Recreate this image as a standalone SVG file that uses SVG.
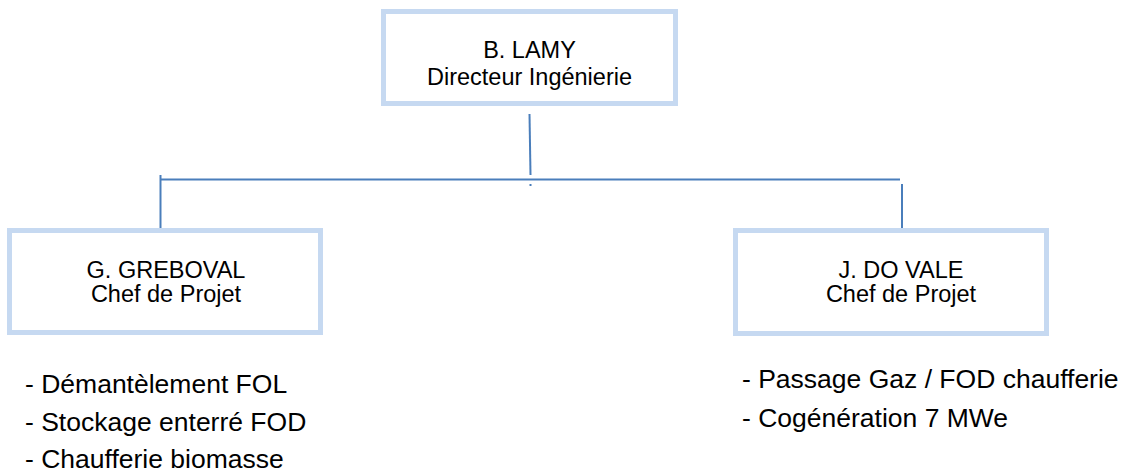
<svg xmlns="http://www.w3.org/2000/svg" width="1124" height="473" viewBox="0 0 1124 473">
<style>
.box{fill:#ffffff;stroke:#C6D9F1;stroke-width:5}
.t{font-family:"Liberation Sans",Arial,sans-serif;font-size:23.5px;fill:#000;text-anchor:middle}
.l{font-family:"Liberation Sans",Arial,sans-serif;font-size:26.5px;fill:#000}
.c{stroke:#4A7EBB;stroke-width:2;fill:none}
</style>
<rect width="1124" height="473" fill="#ffffff"/>
<g id="connectors">
<path class="c" d="M529.5 114 L530.5 175"/>
<path class="c" d="M160 179.5 H900"/>
<path class="c" d="M160.5 175 V232"/>
<path class="c" d="M902 184 V231"/>
<rect x="529.5" y="184" width="2" height="2" fill="#4A7EBB"/>
</g>
<g id="node-lamy">
<rect class="box" x="383.5" y="11.5" width="292" height="92"/>
<text class="t" x="529.5" y="58">B. LAMY</text>
<text class="t" x="529.5" y="85">Directeur Ingénierie</text>
</g>
<g id="node-greboval">
<rect class="box" x="9.5" y="230.5" width="311" height="102"/>
<text class="t" x="166" y="278">G. GREBOVAL</text>
<text class="t" x="166" y="302">Chef de Projet</text>
</g>
<g id="node-dovale">
<rect class="box" x="735.5" y="230.5" width="311" height="103"/>
<text class="t" x="901" y="278">J. DO VALE</text>
<text class="t" x="901" y="302">Chef de Projet</text>
</g>
<g id="list-greboval">
<text class="l" x="25" y="393">- Démantèlement FOL</text>
<text class="l" x="25" y="431">- Stockage enterré FOD</text>
<text class="l" x="25" y="468">- Chaufferie biomasse</text>
</g>
<g id="list-dovale">
<text class="l" x="742" y="388">- Passage Gaz / FOD chaufferie</text>
<text class="l" x="742" y="427">- Cogénération 7 MWe</text>
</g>
</svg>
